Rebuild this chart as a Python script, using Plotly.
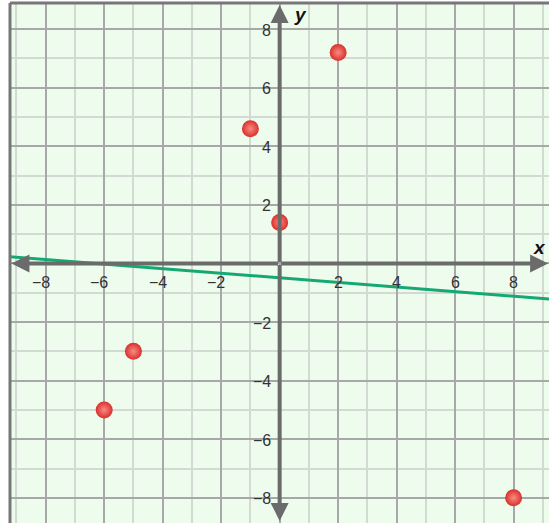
import numpy as np
import plotly.graph_objects as go

# Scatter points
pts_x = [2, -1, 0, -5, -6, 8]
pts_y = [7.2, 4.6, 1.4, -3, -5, -8]

# Axis extents and tick labels
x_range = [-9.22, 9.21]
y_range = [-8.86, 8.89]
x_ticks = [-8, -6, -4, -2, 2, 4, 6, 8]
y_ticks = [8, 6, 4, 2, -2, -4, -6, -8]

axis_color = "#6b6b6b"
bg = "#eefcee"

# Least-squares line through the points
slope, intercept = np.polyfit(pts_x, pts_y, 1)
line_x = np.array(x_range)
line_y = slope * line_x + intercept

fig = go.Figure()

fig.add_trace(go.Scatter(
    x=line_x, y=line_y, mode="lines",
    line=dict(color="#16a873", width=3),
    hoverinfo="skip", showlegend=False,
))

fig.add_trace(go.Scatter(
    x=pts_x, y=pts_y, mode="markers",
    marker=dict(
        size=17, color="#d9302c",
        gradient=dict(type="radial", color="#f98b84"),
        line=dict(width=0),
    ),
    showlegend=False,
))

# Axis arrows through the origin
for ex, ey in [(x_range[0] + 0.05, 0), (x_range[1] - 0.03, 0), (0, y_range[1] - 0.07), (0, y_range[0] + 0.07)]:
    fig.add_annotation(
        x=ex, y=ey, ax=0, ay=0, xref="x", yref="y", axref="x", ayref="y",
        showarrow=True, arrowhead=2, arrowsize=0.9, arrowwidth=4,
        arrowcolor=axis_color, text="",
    )

label_font = dict(family="Liberation Sans, Arial, sans-serif", size=16, color="#333333")
for v in x_ticks:
    fig.add_annotation(
        x=v, y=0, text=str(v).replace("-", "−"), showarrow=False,
        font=label_font, yanchor="top", yshift=-9,
        xshift=-5 if v < 0 else 0,
    )
for v in y_ticks:
    fig.add_annotation(
        x=0, y=v, text=str(v).replace("-", "−"), showarrow=False,
        font=label_font, xanchor="right", xshift=-7, yshift=-1,
    )

name_font = dict(family="Liberation Sans, Arial, sans-serif", size=19, color="#111111")
fig.add_annotation(x=8.88, y=0.55, text="<b><i>x</i></b>", showarrow=False, font=name_font)
fig.add_annotation(x=0.7, y=8.5, text="<b><i>y</i></b>", showarrow=False, font=name_font)

# Frame on the left and top edges
fig.add_shape(type="line", xref="paper", yref="paper", x0=0, x1=0, y0=0, y1=1,
              line=dict(color="#777777", width=3))
fig.add_shape(type="line", xref="paper", yref="paper", x0=0, x1=1, y0=1, y1=1,
              line=dict(color="#777777", width=3))

grid_common = dict(
    showgrid=True, gridcolor="#a8a8a8", gridwidth=2,
    zeroline=False, showticklabels=False, ticks="",
    showline=False, fixedrange=True,
)
fig.update_xaxes(range=x_range, dtick=2, tick0=0,
                 minor=dict(dtick=1, tick0=0, showgrid=True, gridcolor="#d3dad3", gridwidth=2),
                 **grid_common)
fig.update_yaxes(range=y_range, dtick=2, tick0=0,
                 minor=dict(dtick=1, tick0=0, showgrid=True, gridcolor="#d3dad3", gridwidth=2),
                 **grid_common)

fig.update_layout(
    width=549, height=523,
    margin=dict(l=10, r=0, t=3, b=0),
    plot_bgcolor=bg, paper_bgcolor="white",
    showlegend=False,
)

fig.write_html(
    "out.html",
    config={"displayModeBar": False},
    post_script="document.body.style.margin='0';",
)
